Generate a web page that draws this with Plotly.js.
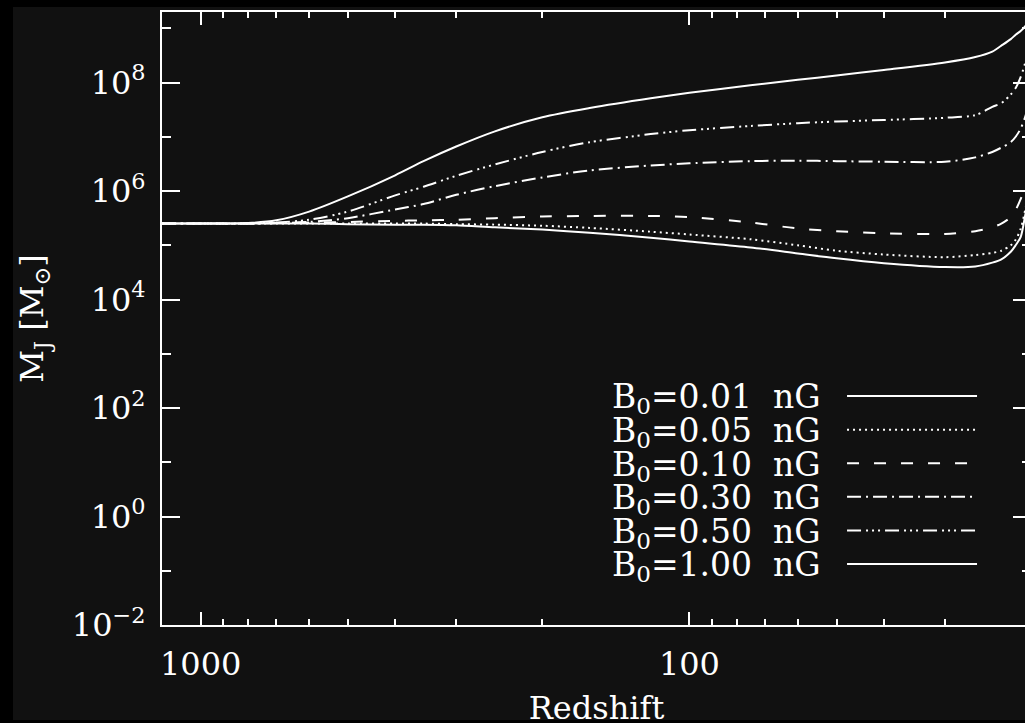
<!DOCTYPE html>
<html>
<head>
<meta charset="utf-8">
<script src="https://cdn.plot.ly/plotly-3.0.1.min.js"></script>
<style>
  html, body { margin: 0; padding: 0; background: #000; overflow: hidden; width: 1025px; height: 723px; }
  #chart { position: absolute; left: 13px; top: 7px; width: 1030px; height: 730px; }
  #edge { position: absolute; left: 0; top: 720px; width: 1025px; height: 3px; background: #000; z-index: 5; }
</style>
</head>
<body>
<div id="chart"></div>
<div id="edge"></div>
<script>
// Redshift grid (decreasing toward the right of the plot)
const redshift = [1200, 1000, 800, 700, 600, 500, 400, 350, 300, 250, 200, 160, 120, 100, 75, 60, 50, 40, 30, 26, 24, 23, 22, 21.5, 21, 20.5, 20];

// Magnetic Jeans mass M_J [M_sun] for each primordial field strength B0
const mj_001 = [2.51e5, 2.51e5, 2.51e5, 2.51e5, 2.51e5, 2.45e5, 2.40e5, 2.40e5, 2.34e5, 2.14e5, 1.95e5, 1.70e5, 1.38e5, 1.17e5, 9.12e4, 7.08e4, 5.75e4, 4.68e4, 3.98e4, 4.07e4, 4.79e4, 5.50e4, 7.59e4, 1.0e5, 1.41e5, 3.98e5, 1.0e6];
const mj_005 = [2.51e5, 2.51e5, 2.51e5, 2.51e5, 2.51e5, 2.51e5, 2.51e5, 2.51e5, 2.45e5, 2.40e5, 2.29e5, 2.09e5, 1.78e5, 1.58e5, 1.29e5, 1.0e5, 7.94e4, 6.76e4, 6.03e4, 6.61e4, 7.24e4, 7.94e4, 1.0e5, 1.26e5, 2.0e5, 5.01e5, 1.58e6];
const mj_010 = [2.51e5, 2.51e5, 2.51e5, 2.57e5, 2.63e5, 2.69e5, 2.82e5, 2.88e5, 2.95e5, 3.16e5, 3.39e5, 3.47e5, 3.47e5, 3.31e5, 2.63e5, 2.04e5, 1.82e5, 1.66e5, 1.62e5, 1.82e5, 2.14e5, 2.51e5, 3.31e5, 4.47e5, 7.08e5, 1.26e6, 3.16e6];
const mj_030 = [2.51e5, 2.51e5, 2.51e5, 2.57e5, 2.69e5, 3.16e5, 4.57e5, 5.75e5, 8.51e5, 1.23e6, 1.78e6, 2.40e6, 2.95e6, 3.24e6, 3.55e6, 3.63e6, 3.55e6, 3.47e6, 3.47e6, 4.17e6, 5.25e6, 6.31e6, 7.94e6, 1.0e7, 1.41e7, 2.51e7, 6.31e7];
const mj_050 = [2.51e5, 2.51e5, 2.51e5, 2.63e5, 2.95e5, 4.17e5, 8.32e5, 1.20e6, 1.91e6, 3.09e6, 5.25e6, 7.94e6, 1.12e7, 1.32e7, 1.58e7, 1.78e7, 1.91e7, 2.04e7, 2.24e7, 2.51e7, 3.55e7, 4.17e7, 6.03e7, 7.94e7, 1.26e8, 2.51e8, 6.31e8];
const mj_100 = [2.51e5, 2.51e5, 2.57e5, 2.88e5, 4.17e5, 7.94e5, 1.95e6, 3.55e6, 6.61e6, 1.26e7, 2.29e7, 3.39e7, 5.13e7, 6.46e7, 8.91e7, 1.12e8, 1.35e8, 1.70e8, 2.34e8, 2.95e8, 3.72e8, 4.79e8, 6.31e8, 7.59e8, 8.91e8, 1.12e9, 1.58e9];

// Legend labels, top to bottom
const fieldLabels = ["B<sub>0</sub>=0.01\u00a0\u00a0nG", "B<sub>0</sub>=0.05\u00a0\u00a0nG", "B<sub>0</sub>=0.10\u00a0\u00a0nG",
                     "B<sub>0</sub>=0.30\u00a0\u00a0nG", "B<sub>0</sub>=0.50\u00a0\u00a0nG", "B<sub>0</sub>=1.00\u00a0\u00a0nG"];

// Axis tick labels
const xTickVals = [1000, 100];
const xTickText = ["1000", "100"];
const xMinorVals = [900, 800, 700, 600, 500, 400, 300, 200, 90, 80, 70, 60, 50, 40, 30, 20];
const yTickVals = [1e-2, 1, 1e2, 1e4, 1e6, 1e8];
const yTickText = ["10<sup>\u22122</sup>", "10<sup>0</sup>", "10<sup>2</sup>", "10<sup>4</sup>", "10<sup>6</sup>", "10<sup>8</sup>"];
const yMinorVals = [1e-1, 1e1, 1e3, 1e5, 1e7, 1e9];

const series = [mj_001, mj_005, mj_010, mj_030, mj_050, mj_100];
const dashes = ["solid", "2px,4px", "12px,15px", "14px,5px,2px,5px", "14px,5px,2px,4px,2px,4px,2px,5px", "solid"];

const traces = series.map((vals, i) => ({
  type: "scatter",
  mode: "lines",
  x: redshift,
  y: vals,
  name: fieldLabels[i],
  line: { color: "#ffffff", width: 2, dash: dashes[i], shape: "spline", smoothing: 0.8 },
  showlegend: false
}));

// Hand-placed key: text on the left, line sample on the right
const keyTop = 0.3695, keyStep = 0.0548;
const annotations = fieldLabels.map((t, i) => ({
  xref: "paper", yref: "paper",
  x: 0.5155, y: keyTop - i * keyStep,
  xanchor: "left", yanchor: "middle",
  height: 32, valign: "middle",
  text: t, showarrow: false,
  font: { family: "DejaVu Serif", size: 33, color: "#ffffff" }
}));
const shapes = fieldLabels.map((t, i) => ({
  type: "line", xref: "paper", yref: "paper",
  x0: 0.7883, x1: 0.9379,
  y0: keyTop - i * keyStep + 0.004, y1: keyTop - i * keyStep + 0.004,
  line: { color: "#ffffff", width: 2, dash: dashes[i] }
}));

const tickFont = { family: "DejaVu Serif", size: 32, color: "#ffffff" };

const layout = {
  width: 1030, height: 730,
  margin: { l: 149, r: 12, t: 3, b: 112 },
  paper_bgcolor: "#111111",
  plot_bgcolor: "#111111",
  font: tickFont,
  xaxis: {
    type: "log",
    range: [Math.log10(1200), Math.log10(20)],
    showline: true, linecolor: "#ffffff", linewidth: 2, mirror: "ticks",
    showgrid: false, zeroline: false,
    ticks: "inside", ticklen: 13, tickwidth: 2, tickcolor: "#ffffff",
    tickmode: "array", tickvals: xTickVals, ticktext: xTickText,
    ticklabelstandoff: 10,
    tickfont: tickFont,
    automargin: true,
    minor: { tickmode: "array", tickvals: xMinorVals, ticks: "inside", ticklen: 6, tickwidth: 2, tickcolor: "#ffffff", showgrid: false },
    title: { text: "Redshift", font: tickFont, standoff: 14 }
  },
  yaxis: {
    type: "log",
    range: [-2, 9.3],
    showline: true, linecolor: "#ffffff", linewidth: 2, mirror: "ticks",
    showgrid: false, zeroline: false,
    ticks: "inside", ticklen: 18, tickwidth: 2, tickcolor: "#ffffff",
    tickmode: "array", tickvals: yTickVals, ticktext: yTickText,
    ticklabelstandoff: 8,
    tickfont: tickFont,
    minor: { tickmode: "array", tickvals: yMinorVals, ticks: "inside", ticklen: 9, tickwidth: 2, tickcolor: "#ffffff", showgrid: false },
    title: { text: "M<sub>J</sub> [M<sub>\u2299</sub>]", font: tickFont, standoff: 20 }
  },
  annotations: annotations,
  shapes: shapes,
  showlegend: false
};

Plotly.newPlot("chart", traces, layout, { staticPlot: true, displayModeBar: false });
</script>
</body>
</html>
